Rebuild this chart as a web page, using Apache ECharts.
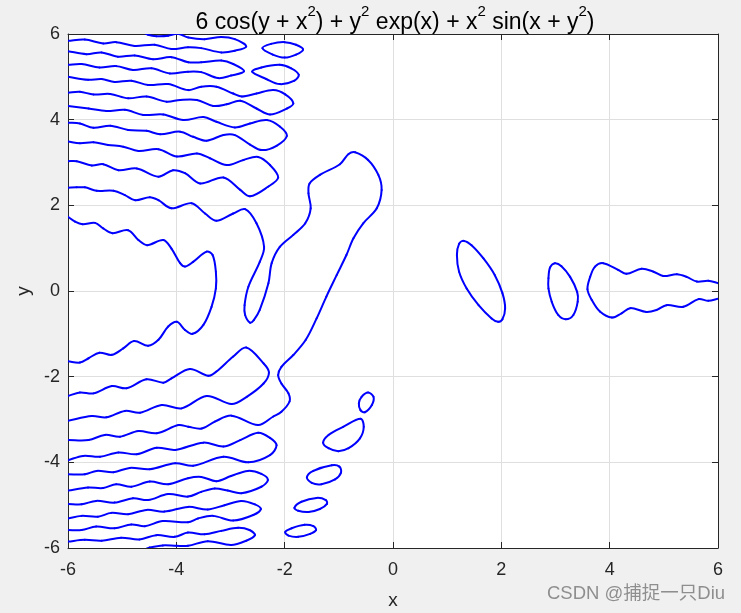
<!DOCTYPE html>
<html>
<head>
    <meta charset="utf-8">
    <title>ECharts</title>
    <script src="https://cdn.jsdelivr.net/npm/echarts@6/dist/echarts.min.js"></script>
    <style>
        html, body { margin: 0; padding: 0; background: #f0f0f0; }
    </style>
</head>
<body>
    <div id="main" style="width: 741px;height:613px;"></div>
    <script type="text/javascript">
        // contour points, [x, y]
        // upper fingers, top to bottom
        var fingerTop1 = [[-4.6,6.03],[-4.52,5.98],[-4.37,5.95],[-4.15,5.96],[-4.02,6.0],[-3.95,6.0],[-3.78,5.92],[-3.48,5.88],[-3.17,5.93],[-2.92,5.88],[-2.71,5.71],[-2.92,5.61],[-3.17,5.57],[-3.54,5.67],[-3.785,5.69],[-4.09,5.65],[-4.4,5.75],[-4.77,5.72],[-5.11,5.81],[-5.35,5.78],[-5.69,5.87],[-6,5.84]];
        var fingerTop2 = [[-6,5.6],[-5.66,5.53],[-5.38,5.57],[-5.08,5.47],[-4.77,5.5],[-4.43,5.41],[-4.09,5.46],[-3.78,5.34],[-3.54,5.34],[-3.17,5.38],[-2.95,5.3],[-2.75,5.13],[-2.99,5.03],[-3.23,4.97],[-3.54,5.11],[-3.785,5.12],[-4.12,5.08],[-4.46,5.2],[-4.8,5.16],[-5.11,5.25],[-5.42,5.22],[-5.75,5.3],[-6,5.28]];
        var fingerTop3 = [[-6,5.0],[-5.63,4.93],[-5.38,4.95],[-5.14,4.88],[-4.83,4.91],[-4.52,4.81],[-4.15,4.83],[-3.78,4.69],[-3.54,4.77],[-3.26,4.77],[-2.95,4.61],[-2.79,4.54],[-2.52,4.61],[-2.21,4.69],[-1.99,4.59],[-1.84,4.38],[-1.96,4.26],[-2.27,4.12],[-2.52,4.26],[-2.82,4.44],[-3.07,4.36],[-3.32,4.32],[-3.62,4.46],[-3.93,4.46],[-4.18,4.42],[-4.55,4.54],[-4.89,4.5],[-5.22,4.6],[-5.53,4.59],[-5.78,4.65],[-6,4.63]];
        var fingerTop4 = [[-6,4.32],[-5.62,4.26],[-5.29,4.2],[-4.95,4.23],[-4.61,4.11],[-4.24,4.12],[-3.87,3.99],[-3.5,4.06],[-3.26,3.95],[-2.92,3.82],[-2.64,3.91],[-2.33,3.99],[-2.09,3.84],[-1.96,3.62],[-2.15,3.39],[-2.42,3.29],[-2.64,3.42],[-2.92,3.64],[-3.13,3.64],[-3.44,3.51],[-3.69,3.6],[-3.93,3.72],[-4.3,3.66],[-4.55,3.74],[-4.89,3.76],[-5.22,3.86],[-5.53,3.81],[-5.78,3.91],[-6,3.93]];
        var fingerTop5 = [[-6,3.49],[-5.78,3.45],[-5.53,3.47],[-5.26,3.41],[-4.98,3.37],[-4.7,3.27],[-4.33,3.31],[-3.99,3.14],[-3.62,3.21],[-3.38,3.1],[-3.07,2.94],[-2.76,3.06],[-2.49,3.13],[-2.27,2.94],[-2.12,2.65],[-2.3,2.44],[-2.64,2.21],[-2.82,2.36],[-3.13,2.65],[-3.56,2.51],[-3.84,2.75],[-4.06,2.82],[-4.33,2.67],[-4.73,2.86],[-5.07,2.82],[-5.35,2.96],[-5.56,2.93],[-5.84,3.03],[-6,3.03]];

        // the long one: from the left edge, round the blob at top, back out to the left edge
        var mainContour = [[-6,2.41],[-5.84,2.42],[-5.69,2.42],[-5.47,2.34],[-5.16,2.34],[-4.95,2.24],[-4.76,2.12],[-4.49,2.19],[-4.33,2.12],[-4.09,1.93],[-3.72,2.05],[-3.47,1.81],[-3.26,1.64],[-2.95,1.81],[-2.73,1.91],[-2.52,1.58],[-2.38,1.03],[-2.46,0.68],[-2.67,0.1],[-2.74,-0.33],[-2.73,-0.56],[-2.64,-0.74],[-2.57,-0.68],[-2.46,-0.44],[-2.3,0.18],[-2.24,0.65],[-2.09,1.03],[-1.84,1.31],[-1.62,1.58],[-1.52,1.93],[-1.56,2.28],[-1.54,2.51],[-1.35,2.71],[-0.98,2.96],[-0.82,3.2],[-0.7,3.24],[-0.46,3.06],[-0.27,2.71],[-0.21,2.36],[-0.3,1.93],[-0.55,1.58],[-0.73,1.23],[-0.86,0.84],[-1.04,0.37],[-1.23,-0.13],[-1.41,-0.64],[-1.61,-1.14],[-1.84,-1.495],[-2.06,-1.77],[-2.12,-1.96],[-2.06,-2.16],[-1.93,-2.39],[-1.91,-2.58],[-2.06,-2.82],[-2.21,-2.93],[-2.49,-3.13],[-2.98,-2.91],[-3.29,-3.05],[-3.53,-3.21],[-3.78,-3.17],[-3.96,-3.13],[-4.36,-3.32],[-4.7,-3.27],[-5.04,-3.4],[-5.32,-3.36],[-5.62,-3.48],[-6,-3.48]];

        // middle region opening to the left
        var middleContour = [[-6,1.73],[-5.87,1.62],[-5.73,1.56],[-5.5,1.59],[-5.35,1.46],[-5.18,1.35],[-4.89,1.42],[-4.7,1.19],[-4.54,1.07],[-4.24,1.19],[-4.09,0.99],[-3.93,0.65],[-3.84,0.57],[-3.69,0.68],[-3.44,0.92],[-3.33,0.84],[-3.27,0.45],[-3.27,0.06],[-3.35,-0.37],[-3.5,-0.79],[-3.7,-1.0],[-3.84,-0.91],[-3.99,-0.72],[-4.15,-0.83],[-4.33,-1.14],[-4.52,-1.28],[-4.78,-1.17],[-4.98,-1.34],[-5.19,-1.49],[-5.42,-1.44],[-5.62,-1.57],[-5.78,-1.67],[-6,-1.64]];

        // lower fingers, top to bottom
        var fingerLow1 = [[-6,-2.45],[-5.78,-2.37],[-5.53,-2.39],[-5.19,-2.22],[-4.92,-2.27],[-4.55,-2.06],[-4.24,-2.14],[-4.09,-2.04],[-3.75,-1.82],[-3.41,-1.98],[-3.26,-1.88],[-2.95,-1.53],[-2.71,-1.32],[-2.39,-1.69],[-2.29,-1.9],[-2.39,-2.16],[-2.7,-2.47],[-2.98,-2.64],[-3.44,-2.45],[-3.9,-2.74],[-4.27,-2.66],[-4.67,-2.84],[-4.95,-2.8],[-5.29,-2.95],[-5.56,-2.92],[-6,-3.03]];
        var fingerLow2 = [[-6,-3.95],[-5.72,-3.85],[-5.41,-3.87],[-5.07,-3.77],[-4.73,-3.81],[-4.36,-3.66],[-4.02,-3.71],[-3.5,-3.54],[-3.13,-3.63],[-2.82,-3.48],[-2.49,-3.31],[-2.27,-3.43],[-2.15,-3.6],[-2.27,-3.83],[-2.67,-4.0],[-3.13,-3.87],[-3.69,-4.08],[-4.02,-4.02],[-4.49,-4.16],[-4.86,-4.13],[-5.16,-4.23],[-5.47,-4.2],[-5.69,-4.28],[-6,-4.28]];
        var fingerLow3 = [[-6,-4.66],[-5.63,-4.59],[-5.35,-4.6],[-5.11,-4.51],[-4.83,-4.57],[-4.49,-4.45],[-4.15,-4.51],[-3.785,-4.37],[-3.54,-4.34],[-3.26,-4.44],[-2.99,-4.32],[-2.68,-4.2],[-2.43,-4.27],[-2.31,-4.41],[-2.43,-4.57],[-2.8,-4.72],[-3.05,-4.66],[-3.29,-4.61],[-3.54,-4.69],[-3.785,-4.8],[-4.15,-4.74],[-4.52,-4.88],[-4.8,-4.84],[-5.14,-4.94],[-5.48,-4.9],[-5.75,-4.98],[-6,-4.97]];
        var fingerLow4 = [[-6,-5.31],[-5.75,-5.25],[-5.45,-5.27],[-5.2,-5.18],[-4.89,-5.21],[-4.55,-5.11],[-4.22,-5.15],[-3.785,-5.04],[-3.42,-5.1],[-3.11,-5.0],[-2.8,-4.9],[-2.55,-4.98],[-2.44,-5.09],[-2.58,-5.23],[-2.95,-5.36],[-3.32,-5.25],[-3.6,-5.31],[-3.785,-5.4],[-4.25,-5.37],[-4.58,-5.49],[-4.83,-5.45],[-5.14,-5.54],[-5.48,-5.5],[-5.75,-5.58],[-6,-5.58]];
        var fingerLow5 = [[-6,-5.85],[-5.69,-5.81],[-5.38,-5.83],[-5.02,-5.76],[-4.68,-5.8],[-4.37,-5.7],[-4.03,-5.74],[-3.785,-5.64],[-3.48,-5.68],[-3.17,-5.6],[-2.86,-5.53],[-2.65,-5.58],[-2.55,-5.7],[-2.71,-5.83],[-2.99,-5.93],[-3.42,-5.84],[-3.785,-5.95],[-4.0,-5.95],[-4.25,-5.94],[-4.49,-5.99],[-4.58,-6.03]];

        // closed loops
        var loopTopA = [[-2.41,5.67],[-2.25,5.77],[-2.0,5.81],[-1.79,5.75],[-1.66,5.64],[-1.79,5.52],[-2.0,5.45],[-2.22,5.52],[-2.41,5.67]];
        var loopTopB = [[-2.6,5.12],[-2.43,5.22],[-2.09,5.28],[-1.88,5.2],[-1.74,5.05],[-1.82,4.91],[-2.09,4.83],[-2.34,4.95],[-2.6,5.12]];
        var loopLowA = [[-0.63,-2.62],[-0.58,-2.47],[-0.46,-2.37],[-0.36,-2.47],[-0.39,-2.66],[-0.52,-2.83],[-0.6,-2.78],[-0.63,-2.62]];
        var loopLowB = [[-0.6,-2.98],[-0.54,-3.17],[-0.61,-3.44],[-0.82,-3.67],[-1.01,-3.74],[-1.19,-3.67],[-1.29,-3.54],[-1.19,-3.36],[-0.92,-3.17],[-0.6,-2.98]];
        var loopLowC = [[-1.59,-4.35],[-1.47,-4.2],[-1.13,-4.07],[-0.99,-4.1],[-0.96,-4.24],[-1.07,-4.4],[-1.32,-4.51],[-1.5,-4.48],[-1.59,-4.35]];
        var loopLowD = [[-1.82,-5.06],[-1.69,-4.92],[-1.41,-4.83],[-1.24,-4.88],[-1.22,-4.97],[-1.35,-5.09],[-1.56,-5.16],[-1.75,-5.13],[-1.82,-5.06]];
        var loopLowE = [[-1.99,-5.63],[-1.87,-5.54],[-1.63,-5.46],[-1.47,-5.49],[-1.42,-5.58],[-1.53,-5.67],[-1.75,-5.74],[-1.93,-5.71],[-1.99,-5.63]];
        var loopRightA = [[1.18,0.84],[1.22,1.1],[1.31,1.17],[1.45,1.07],[1.67,0.76],[1.88,0.37],[2.02,-0.05],[2.07,-0.4],[2.02,-0.66],[1.94,-0.72],[1.82,-0.64],[1.58,-0.33],[1.36,0.06],[1.22,0.45],[1.18,0.84]];
        var loopRightB = [[2.87,0.3],[2.9,0.55],[2.99,0.65],[3.11,0.58],[3.27,0.33],[3.4,-0.02],[3.41,-0.25],[3.33,-0.56],[3.19,-0.66],[3.05,-0.56],[2.93,-0.25],[2.87,0.06],[2.87,0.3]];

        // finger on the right, open at the right edge
        var fingerRight = [[6.01,0.18],[5.82,0.24],[5.61,0.22],[5.42,0.33],[5.24,0.39],[4.99,0.35],[4.81,0.45],[4.59,0.52],[4.31,0.4],[4.16,0.49],[3.88,0.65],[3.73,0.57],[3.64,0.33],[3.59,0.04],[3.67,-0.21],[3.82,-0.48],[4.04,-0.62],[4.22,-0.52],[4.38,-0.4],[4.68,-0.49],[4.87,-0.44],[5.05,-0.33],[5.36,-0.37],[5.64,-0.19],[5.82,-0.23],[6.01,-0.18]];

        var allContours = [
            fingerTop1, fingerTop2, fingerTop3, fingerTop4, fingerTop5,
            mainContour, middleContour,
            fingerLow1, fingerLow2, fingerLow3, fingerLow4, fingerLow5,
            loopTopA, loopTopB, loopLowA, loopLowB, loopLowC, loopLowD, loopLowE,
            loopRightA, loopRightB, fingerRight
        ];

        var axisFont = 'Liberation Sans';
        var axisDark = '#262626';
        var gridGrey = '#dfdfdf';
        var curveTension = 0.34;

        function makeAxis(pos, name, isMain) {
            return {
                type: 'value',
                position: pos,
                min: -6,
                max: 6,
                interval: 2,
                name: isMain ? name : '',
                nameLocation: 'middle',
                nameGap: pos === 'bottom' ? 43 : 28,
                nameTextStyle: { fontFamily: axisFont, fontSize: 19, color: axisDark },
                axisLine: { show: true, onZero: false, lineStyle: { color: axisDark, width: 1 } },
                axisTick: { show: true, inside: true, length: 6, lineStyle: { color: axisDark, width: 1 } },
                axisLabel: {
                    show: isMain,
                    fontFamily: axisFont,
                    fontSize: 18,
                    color: axisDark,
                    margin: pos === 'bottom' ? 13 : 8
                },
                splitLine: { show: isMain, lineStyle: { color: gridGrey, width: 1 } }
            };
        }

        // line series clamps its bezier handles and goes blocky on these wiggles,
        // so each piece between two read points is drawn as its own bezier
        function contourSeries(pts) {
            var n = pts.length;
            var closed = pts[0][0] === pts[n - 1][0] && pts[0][1] === pts[n - 1][1];
            return {
                type: 'custom',
                coordinateSystem: 'cartesian2d',
                data: pts,
                encode: { x: 0, y: 1 },
                silent: true,
                z: 3,
                renderItem: function (params, api) {
                    var i = params.dataIndex;
                    if (i === n - 1) {
                        return null;
                    }
                    var prev = i > 0 ? pts[i - 1] : (closed ? pts[n - 2] : pts[0]);
                    var after = i + 2 < n ? pts[i + 2] : (closed ? pts[1] : pts[n - 1]);
                    var p0 = api.coord(prev);
                    var p1 = api.coord(pts[i]);
                    var p2 = api.coord(pts[i + 1]);
                    var p3 = api.coord(after);
                    var len01 = Math.hypot(p1[0] - p0[0], p1[1] - p0[1]);
                    var len12 = Math.hypot(p2[0] - p1[0], p2[1] - p1[1]);
                    var len23 = Math.hypot(p3[0] - p2[0], p3[1] - p2[1]);
                    var a = curveTension * len12 / ((len01 + len12) || 1);
                    var b = curveTension * len12 / ((len12 + len23) || 1);
                    return {
                        type: 'bezierCurve',
                        shape: {
                            x1: p1[0],
                            y1: p1[1],
                            x2: p2[0],
                            y2: p2[1],
                            cpx1: p1[0] + (p2[0] - p0[0]) * a,
                            cpy1: p1[1] + (p2[1] - p0[1]) * a,
                            cpx2: p2[0] - (p3[0] - p1[0]) * b,
                            cpy2: p2[1] - (p3[1] - p1[1]) * b
                        },
                        style: { stroke: '#0000ff', fill: null, lineWidth: 2, lineCap: 'round' },
                        clipPath: {
                            type: 'rect',
                            shape: {
                                x: params.coordSys.x,
                                y: params.coordSys.y,
                                width: params.coordSys.width,
                                height: params.coordSys.height
                            }
                        }
                    };
                }
            };
        }

        var myChart = echarts.init(document.getElementById('main'));
        myChart.setOption({
            animation: false,
            backgroundColor: '#f0f0f0',
            title: {
                text: '6 cos(y + x{s|2}) + y{s|2} exp(x) + x{s|2} sin(x + y{s|2})',
                left: 390,
                top: -1,
                textAlign: 'center',
                textStyle: {
                    fontFamily: axisFont,
                    fontSize: 23,
                    lineHeight: 38,
                    fontWeight: 'normal',
                    color: '#000',
                    rich: {
                        s: { fontFamily: axisFont, fontSize: 15, color: '#000', verticalAlign: 'top', lineHeight: 18 }
                    }
                }
            },
            grid: { left: 68, right: 23, top: 34, bottom: 65, show: true, backgroundColor: '#fff', borderWidth: 0, outerBoundsMode: 'none' },
            xAxis: [makeAxis('bottom', 'x', true), makeAxis('top', '', false)],
            yAxis: [makeAxis('left', 'y', true), makeAxis('right', '', false)],
            series: allContours.map(contourSeries),
            graphic: [{
                type: 'text',
                left: 547,
                top: 585,
                silent: true,
                style: {
                    text: 'CSDN @捕捉一只Diu',
                    fontFamily: 'Liberation Sans, Noto Sans CJK SC',
                    fontSize: 18.5,
                    fill: 'rgba(110,110,110,0.75)'
                }
            }]
        });
    </script>
</body>
</html>
